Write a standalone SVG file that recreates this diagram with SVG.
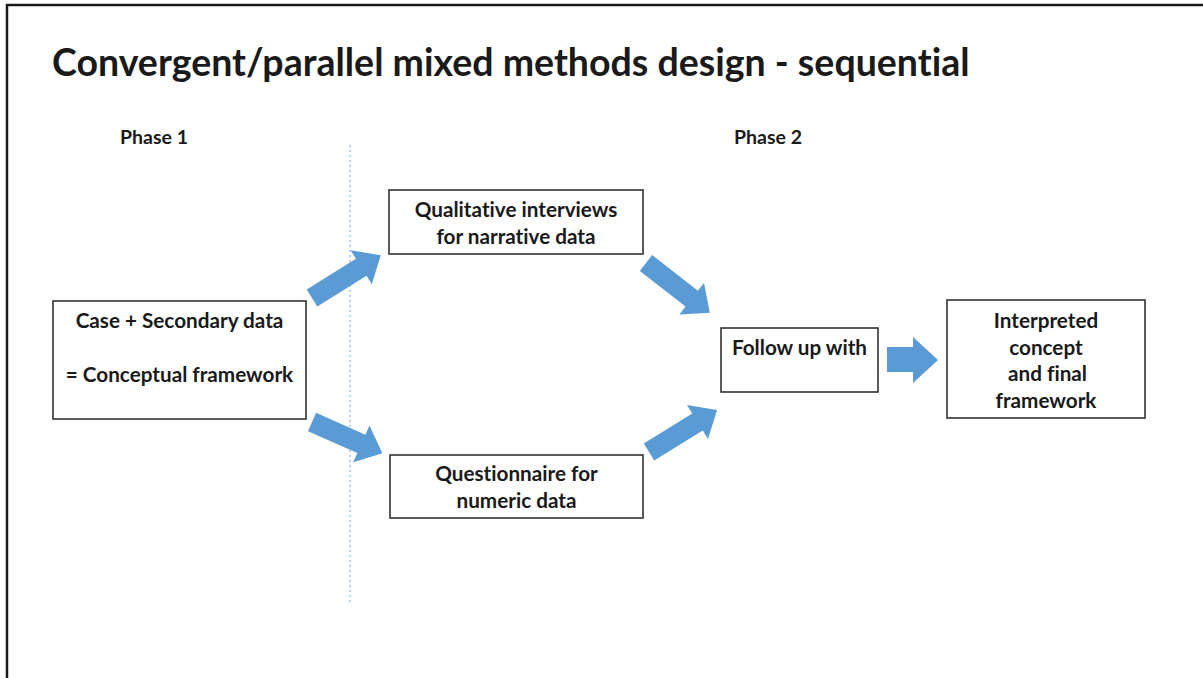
<svg xmlns="http://www.w3.org/2000/svg" width="1203" height="678" viewBox="0 0 1203 678">
<style>
text{font-family:Lato,"Open Sans","Liberation Sans",sans-serif;font-weight:bold;fill:#1a1a1a;font-variant-ligatures:none}
.t{font-size:20.7px;text-anchor:middle}
.ph{font-size:19.5px;text-anchor:middle}
.box{fill:#fff;stroke:#333;stroke-width:1.6}
.arr{fill:#5b9bd5}
</style>
<defs>
<path id="a81" d="M0,-10 L58,-10 L58,-20 L81,0 L58,20 L58,10 L0,10 Z"/>
<path id="a77" d="M0,-10 L54,-10 L54,-20 L77,0 L54,20 L54,10 L0,10 Z"/>
<path id="a80" d="M0,-10 L57,-10 L57,-20 L80,0 L57,20 L57,10 L0,10 Z"/>
</defs>
<rect width="1203" height="678" fill="#fff"/>
<path d="M7,678 L7,5 L1203,5" fill="none" stroke="#1a1a1a" stroke-width="2.5"/>
<text x="52" y="76" style="font-size:37.5px">Convergent/parallel mixed methods design - sequential</text>
<text x="154" y="144" class="ph">Phase 1</text>
<text x="768" y="144" class="ph">Phase 2</text>
<line x1="350" y1="145" x2="350" y2="602" stroke="#9dc3e6" stroke-width="1.5" stroke-dasharray="2,3"/>
<g id="connectors" class="arr">
<use href="#a81" transform="translate(312,298) rotate(-31.9)"/>
<use href="#a77" transform="translate(312,422) rotate(23.9)"/>
<use href="#a81" transform="translate(646,263) rotate(38)"/>
<use href="#a80" transform="translate(649,452) rotate(-31.7)"/>
<path d="M887,347 L913,347 L913,337 L938,360 L913,383 L913,372 L887,372 Z"/>
</g>
<g id="n-case">
<rect class="box" x="53" y="301" width="253" height="118"/>
<text class="t" x="179.5" y="327.5">Case + Secondary data</text>
<text class="t" x="179.5" y="381.5">= Conceptual framework</text>
</g>
<g id="n-qual">
<rect class="box" x="389" y="190" width="254" height="64"/>
<text class="t" x="516" y="216.5">Qualitative interviews</text>
<text class="t" x="516" y="243.5">for narrative data</text>
</g>
<g id="n-quest">
<rect class="box" x="390" y="455" width="253" height="63"/>
<text class="t" x="516.5" y="480.5">Questionnaire for</text>
<text class="t" x="516.5" y="507.5">numeric data</text>
</g>
<g id="n-follow">
<rect class="box" x="721" y="328" width="157" height="64"/>
<text class="t" x="799.5" y="354.5">Follow up with</text>
</g>
<g id="n-final">
<rect class="box" x="947" y="300" width="198" height="118"/>
<text class="t" x="1046" y="327.5">Interpreted</text>
<text class="t" x="1046" y="354.5">concept</text>
<text class="t" x="1047.5" y="380.5">and final</text>
<text class="t" x="1046" y="407.5">framework</text>
</g>
</svg>
